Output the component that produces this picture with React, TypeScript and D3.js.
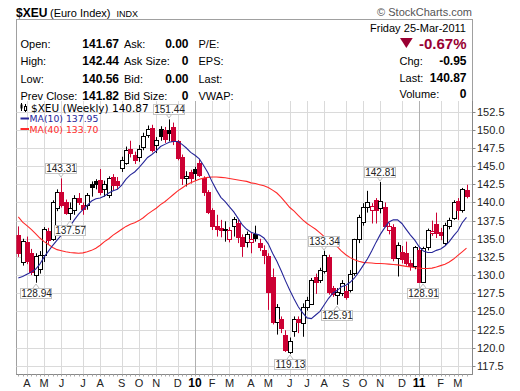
import React from 'react';
import * as d3 from 'd3';

// weekly bars, first bar = week of Monday 23-Mar-2009
const weekStart = new Date(2009, 2, 23);

const opens = [
  135.5, 131.8, 134.6, 133.0, 130.0, 130.9, 132.7, 136.0, 135.0, 139.2,
  141.5, 140.1, 138.5, 138.9, 140.6, 139.7, 139.6, 142.5, 142.95, 143.1,
  141.8, 141.0, 143.5, 143.0, 144.8, 145.5, 147.3, 146.6, 146.2, 147.7,
  149.3, 150.3, 147.9, 150.1, 150.0, 150.0, 150.4, 148.4, 146.3, 143.35,
  144.2, 144.6, 145.4, 143.3, 141.4, 138.9, 136.8, 136.5, 136.2, 134.95,
  136.75, 137.2, 135.3, 134.5, 134.6, 135.7, 134.4, 133.4, 132.6, 129.8,
  123.5, 123.9, 121.8, 119.4, 122.3, 123.9, 123.4, 125.6, 126.0, 129.8,
  129.3, 130.6, 132.5, 128.2, 127.2, 127.5, 127.8, 127.9, 130.3, 134.9,
  137.3, 139.4, 139.0, 140.3, 139.3, 139.4, 136.2, 136.6, 132.3, 133.2,
  133.0, 131.7, 131.2, 133.5, 129.0, 133.8, 135.8, 137.0, 135.9, 134.4,
  136.8, 137.9, 140.2, 139.0, 141.67,
];
const highs = [
  136.7, 135.0, 135.3, 133.6, 133.0, 133.3, 136.6, 136.5, 140.3, 141.8,
  143.31, 140.4, 140.0, 141.0, 141.3, 140.0, 141.3, 142.9, 143.2, 144.6,
  143.0, 143.6, 143.9, 143.5, 146.3, 147.7, 148.5, 147.0, 147.9, 149.6,
  150.6, 150.7, 149.0, 150.5, 150.4, 151.44, 151.0, 148.6, 146.6, 144.3,
  144.5, 144.9, 145.9, 143.6, 141.7, 139.2, 138.3, 137.6, 137.4, 136.6,
  138.0, 137.6, 135.6, 136.0, 135.8, 136.8, 135.0, 134.1, 133.0, 130.9,
  126.0, 124.3, 122.4, 121.4, 124.3, 124.3, 126.1, 127.0, 129.6, 130.2,
  131.0, 133.34, 132.8, 128.5, 128.2, 129.3, 128.5, 130.7, 135.0, 138.3,
  139.9, 141.6, 139.9, 140.6, 142.81, 140.0, 137.2, 137.0, 134.5, 134.0,
  134.6, 132.1, 134.0, 133.9, 133.9, 136.4, 137.5, 138.6, 136.5, 137.2,
  137.9, 140.3, 140.6, 142.0, 142.44,
];
const lows = [
  132.5, 131.3, 131.5, 130.0, 128.94, 130.2, 131.8, 134.3, 134.7, 138.8,
  139.3, 138.3, 137.57, 138.3, 139.65, 138.3, 139.0, 140.8, 141.8, 141.0,
  140.8, 140.6, 141.7, 141.8, 144.2, 145.2, 146.2, 145.3, 145.6, 147.2,
  148.9, 146.9, 146.8, 148.5, 148.2, 148.4, 147.9, 145.8, 142.4, 142.2,
  142.6, 143.0, 143.5, 140.9, 138.4, 136.2, 135.3, 135.2, 134.6, 134.5,
  135.3, 134.4, 132.5, 133.8, 133.0, 134.6, 133.3, 131.5, 125.2, 123.2,
  121.8, 122.0, 119.4, 119.13, 121.5, 122.0, 121.5, 125.1, 125.9, 127.4,
  128.9, 130.2, 127.3, 127.0, 125.91, 127.1, 126.6, 127.6, 129.9, 134.4,
  136.8, 138.6, 137.1, 137.1, 138.5, 136.6, 135.6, 131.9, 129.8, 131.6,
  131.3, 130.6, 130.8, 129.0, 128.91, 133.4, 135.4, 135.1, 134.8, 134.1,
  136.3, 137.6, 137.6, 138.6, 140.56,
];
const closes = [
  133.0, 134.7, 131.9, 130.4, 132.6, 132.7, 136.4, 134.8, 140.0, 141.5,
  139.7, 138.6, 139.3, 140.6, 140.0, 139.1, 141.0, 142.1, 142.6, 141.5,
  142.5, 143.3, 142.4, 142.35, 145.85, 147.2, 146.8, 145.8, 147.4, 149.2,
  150.1, 147.2, 148.6, 149.1, 148.8, 149.6, 148.4, 146.1, 143.4, 143.6,
  143.3, 144.0, 143.8, 141.4, 138.7, 136.7, 136.3, 136.2, 136.35, 136.25,
  137.7, 135.3, 134.0, 135.7, 135.0, 135.1, 133.8, 132.8, 127.6, 123.5,
  125.6, 122.7, 119.7, 120.9, 123.9, 123.6, 125.6, 126.6, 129.3, 129.1,
  130.7, 132.8, 127.6, 127.4, 127.6, 128.9, 127.0, 130.2, 134.9, 138.0,
  139.4, 140.0, 139.5, 139.0, 140.2, 136.8, 136.7, 132.3, 134.1, 132.2,
  131.7, 131.2, 133.8, 129.1, 133.7, 136.2, 136.1, 135.8, 135.5, 136.9,
  137.6, 140.0, 139.0, 141.8, 140.87,
];
const ma10 = [
  129.6, 129.8, 130.1, 130.4, 130.8, 131.5, 132.5, 133.3, 134.1, 134.8,
  135.5, 136.0, 136.7, 137.6, 138.4, 139.0, 139.6, 140.2, 140.5, 140.6,
  140.9, 141.3, 141.6, 141.8, 142.4, 143.2, 143.8, 144.2, 144.8, 145.5,
  146.2, 146.6, 147.1, 147.7, 148.0, 148.3, 148.4, 148.4, 148.0, 147.5,
  146.9, 146.5, 146.0, 145.1, 144.1, 142.8, 141.7, 140.7, 140.1, 139.4,
  138.7, 137.8, 136.9, 136.3, 135.9, 135.7, 135.5, 135.1, 134.3, 133.0,
  131.9, 130.6, 129.2, 127.9, 126.7, 125.6, 124.8, 124.1, 124.0, 124.5,
  125.0, 125.9, 126.8, 127.5, 127.9, 128.4, 128.6, 129.0, 129.6, 130.4,
  131.3, 132.2, 133.3, 134.5, 135.6, 136.5, 137.3, 137.6, 137.6, 137.1,
  136.3, 135.5, 134.8, 133.9, 133.3, 133.1, 133.1, 133.4, 133.6, 134.0,
  134.6, 135.4, 136.1, 137.2, 137.95,
];
const ma40 = [
  138.0, 137.3, 136.8, 136.3, 135.7, 135.1, 134.6, 134.2, 133.8, 133.5,
  133.35, 133.2, 133.1, 133.05, 133.0, 133.05, 133.2, 133.4, 133.7, 134.1,
  134.6, 135.0, 135.5, 135.9, 136.3, 136.7, 137.0, 137.2, 137.5, 137.9,
  138.4, 138.8, 139.2, 139.7, 140.1, 140.6, 141.1, 141.6, 142.0, 142.4,
  142.7, 142.95, 143.2, 143.35, 143.45, 143.5, 143.5, 143.45, 143.4, 143.3,
  143.2, 143.1, 143.0, 142.9, 142.7, 142.6, 142.45, 142.3, 142.05, 141.7,
  141.3, 140.7, 140.0, 139.3, 138.8, 138.2, 137.6, 137.1, 136.7, 136.3,
  135.8, 135.3, 134.8, 134.3, 133.9, 133.3, 132.8, 132.4, 132.1, 131.9,
  131.75, 131.7, 131.65, 131.6, 131.6, 131.55, 131.5, 131.45, 131.4, 131.3,
  131.2, 131.1, 131.0, 130.95, 130.9, 130.9, 130.95, 131.1, 131.3, 131.5,
  131.8, 132.2, 132.7, 133.2, 133.7,
];

const yTicks = [117.5, 120, 122.5, 125, 127.5, 130, 132.5, 135, 137.5, 140, 142.5, 145, 147.5, 150, 152.5];
const monthLetters = ['J', 'F', 'M', 'A', 'M', 'J', 'J', 'A', 'S', 'O', 'N', 'D'];

// high / low call-outs: bar index and which end
const callouts: { i: number; side: 'high' | 'low' }[] = [
  { i: 4, side: 'low' }, { i: 10, side: 'high' }, { i: 12, side: 'low' },
  { i: 35, side: 'high' }, { i: 63, side: 'low' }, { i: 71, side: 'high' },
  { i: 74, side: 'low' }, { i: 84, side: 'high' }, { i: 94, side: 'low' },
];

const infoLabels1 = ['Open:', 'High:', 'Low:', 'Prev Close:'];
const infoValues1 = ['141.67', '142.44', '140.56', '141.82'];
const infoLabels2 = ['Ask:', 'Ask Size:', 'Bid:', 'Bid Size:'];
const infoValues2 = ['0.00', '0', '0.00', '0'];
const infoLabels3 = ['P/E:', 'EPS:', 'Last:', 'VWAP:'];
const quoteLabels = ['Chg:', 'Last:', 'Volume:'];
const quoteValues = ['-0.95', '140.87', '0'];

const RED = '#cc0033';
const NAVY = '#262699';
const MA_RED = '#ff2a2a';
const SANS = '"Liberation Sans", Arial, sans-serif';

const App: React.FC = () => {
  const W = 520, H = 391;
  const left = 16.5, right = 472.5, top = 101, bottom = 374.5;

  const x = d3.scaleLinear().domain([0, closes.length - 1]).range([18.3, 466.5]);
  const y = d3.scaleLinear().domain([117.5, 152.5]).range([365.8, 111.7]);

  const dates = closes.map((_, i) => d3.timeMonday.offset(weekStart, i));
  const months = d3.timeMonth.range(new Date(2009, 3, 1), new Date(2011, 3, 1));
  const monthTicks = months
    .map(m => ({ m, i: dates.findIndex(d => d >= m) }))
    .filter(t => t.i >= 0);

  const line = d3.line<number>().x((_, i) => x(i)).y(d => y(d));
  const px = (v: number) => Math.round(v) + 0.5;

  return (
    <svg width={W} height={H} style={{ position: 'absolute', left: 0, top: 0, background: '#fff' }}
      fontFamily={SANS}>
      <defs>
        <clipPath id="plot">
          <rect x={left} y={top} width={right - left} height={bottom - top} />
        </clipPath>
      </defs>
      <rect width={W} height={H} fill="#fff" />

      {/* title */}
      <text x={16} y={16.5} fontSize={12} fontWeight="bold">$XEU</text>
      <text x={50} y={16.5} fontSize={11}>(Euro Index)</text>
      <text x={116.5} y={16.5} fontSize={9}>INDX</text>
      <text x={472} y={15.5} fontSize={11} fill="#555" textAnchor="end">© StockCharts.com</text>

      {/* quote box */}
      <rect x={left} y={19.5} width={right - left} height={bottom - 19.5} fill="none" stroke="#a0a0a0" />
      {infoLabels1.map((t, k) => (
        <g key={t} fontSize={11}>
          <text x={20.5} y={47.5 + k * 17.5}>{t}</text>
          <text x={119} y={47.5 + k * 17.5} textAnchor="end" fontWeight="bold" fontSize={12}>{infoValues1[k]}</text>
          <text x={124} y={47.5 + k * 17.5}>{infoLabels2[k]}</text>
          <text x={188.5} y={47.5 + k * 17.5} textAnchor="end" fontWeight="bold" fontSize={12}>{infoValues2[k]}</text>
          <text x={198.5} y={47.5 + k * 17.5}>{infoLabels3[k]}</text>
        </g>
      ))}
      <text x={370} y={32} fontSize={11}>Friday</text>
      <text x={466} y={32} fontSize={11} textAnchor="end">25-Mar-2011</text>
      <path d="M400,38 L412.7,38 L406.35,48 Z" fill="#990033" />
      <text x={466.5} y={48.5} fontSize={15} fontWeight="bold" fill="#990033" textAnchor="end">-0.67%</text>
      {quoteLabels.map((t, k) => (
        <g key={t}>
          <text x={399.5} y={65 + k * 16.5} fontSize={11}>{t}</text>
          <text x={466.5} y={65 + k * 16.5} fontSize={12} fontWeight="bold" textAnchor="end">{quoteValues[k]}</text>
        </g>
      ))}

      {/* grid */}
      <g stroke="#dadada">
        {yTicks.map(v => (
          <line key={v} x1={left} x2={right} y1={px(y(v))} y2={px(y(v))} />
        ))}
        {monthTicks.map(t => (
          <line key={+t.m} x1={px(x(t.i))} x2={px(x(t.i))} y1={top} y2={bottom}
            stroke={t.m.getMonth() === 0 ? '#b0b0b0' : '#dadada'} />
        ))}
      </g>

      {/* candles + averages */}
      <g clipPath="url(#plot)">
        {closes.map((c, i) => {
          const o = opens[i];
          const prev = i > 0 ? closes[i - 1] : o;
          const color = c >= prev ? '#000' : RED;
          const cx = px(x(i));
          const yt = Math.round(y(Math.max(o, c)));
          const yb = Math.round(y(Math.min(o, c)));
          return (
            <g key={i}>
              <line x1={cx} x2={cx} y1={y(highs[i])} y2={y(lows[i])} stroke={color} />
              <rect x={cx - 2} y={yt + 0.5} width={4} height={Math.max(1, yb - yt)}
                fill={c < o ? color : '#fff'} stroke={color} />
            </g>
          );
        })}
        <path d={line(ma40) || ''} fill="none" stroke={MA_RED} strokeWidth={1.1} />
        <path d={line(ma10) || ''} fill="none" stroke={NAVY} strokeWidth={1.1} />
      </g>

      {/* call-outs */}
      {callouts.map(({ i, side }) => {
        const v = side === 'high' ? highs[i] : lows[i];
        const cx = Math.round(x(i));
        const yv = y(v);
        const boxY = side === 'high' ? Math.round(yv) - 15 : Math.round(yv) + 5;
        const tipY = side === 'high' ? boxY + 10 : boxY;
        const tipEnd = side === 'high' ? tipY + 4 : tipY - 4;
        return (
          <g key={i}>
            <path d={`M${cx - 3},${tipY} L${cx},${tipEnd} L${cx + 3},${tipY}`} fill="#fff" stroke="#bdbdbd" />
            <rect x={cx - 15.5} y={boxY + 0.5} width={31} height={10} fill="#fff" stroke="#c4c4c4" />
            <text x={cx + 0.5} y={boxY + 9.2} fontSize={10} textAnchor="middle" fill="#222">{v.toFixed(2)}</text>
          </g>
        );
      })}

      {/* legend */}
      <g>
        <line x1={21.5} x2={21.5} y1={103} y2={111} stroke="#000" />
        <rect x={20.5} y={104.5} width={2} height={4} fill="#000" />
        <line x1={25.5} x2={25.5} y1={104} y2={112} stroke="#000" />
        <rect x={24.5} y={106.5} width={2} height={4} fill="#fff" stroke="#000" />
        <text x={31} y={111.5} fontSize={10.5} fontFamily="DejaVu Sans" fill="#000">$XEU (Weekly) 140.87</text>
        <line x1={20.5} x2={29} y1={118.5} y2={118.5} stroke={NAVY} strokeWidth={2} />
        <text x={29.5} y={122} fontSize={9.3} fontFamily="DejaVu Sans" fill={NAVY}>MA(10) 137.95</text>
        <line x1={20.5} x2={29} y1={129} y2={129} stroke={MA_RED} strokeWidth={2} />
        <text x={29.5} y={132.5} fontSize={9.3} fontFamily="DejaVu Sans" fill={MA_RED}>MA(40) 133.70</text>
      </g>

      {/* right axis */}
      <line x1={right} x2={right} y1={top} y2={bottom} stroke="#888" />
      {yTicks.map(v => (
        <g key={v}>
          <line x1={right} x2={right + 3} y1={px(y(v))} y2={px(y(v))} stroke="#888" />
          <text x={477} y={y(v) + 4} fontSize={11} fill="#222">{d3.format('.1f')(v)}</text>
        </g>
      ))}

      {/* bottom axis */}
      <line x1={left} x2={right} y1={bottom} y2={bottom} stroke="#888" />
      {closes.map((_, i) => (
        <line key={i} x1={px(x(i))} x2={px(x(i))} y1={bottom} y2={bottom + 2} stroke="#aaa" />
      ))}
      {monthTicks.map(t => {
        const jan = t.m.getMonth() === 0;
        return (
          <text key={+t.m} x={x(t.i)} y={387} fontSize={jan ? 12 : 11} fontWeight={jan ? 'bold' : 'normal'}
            textAnchor="middle" fill={jan ? '#000' : '#222'}>
            {jan ? String(t.m.getFullYear()).slice(2) : monthLetters[t.m.getMonth()]}
          </text>
        );
      })}
    </svg>
  );
};

export default App;
